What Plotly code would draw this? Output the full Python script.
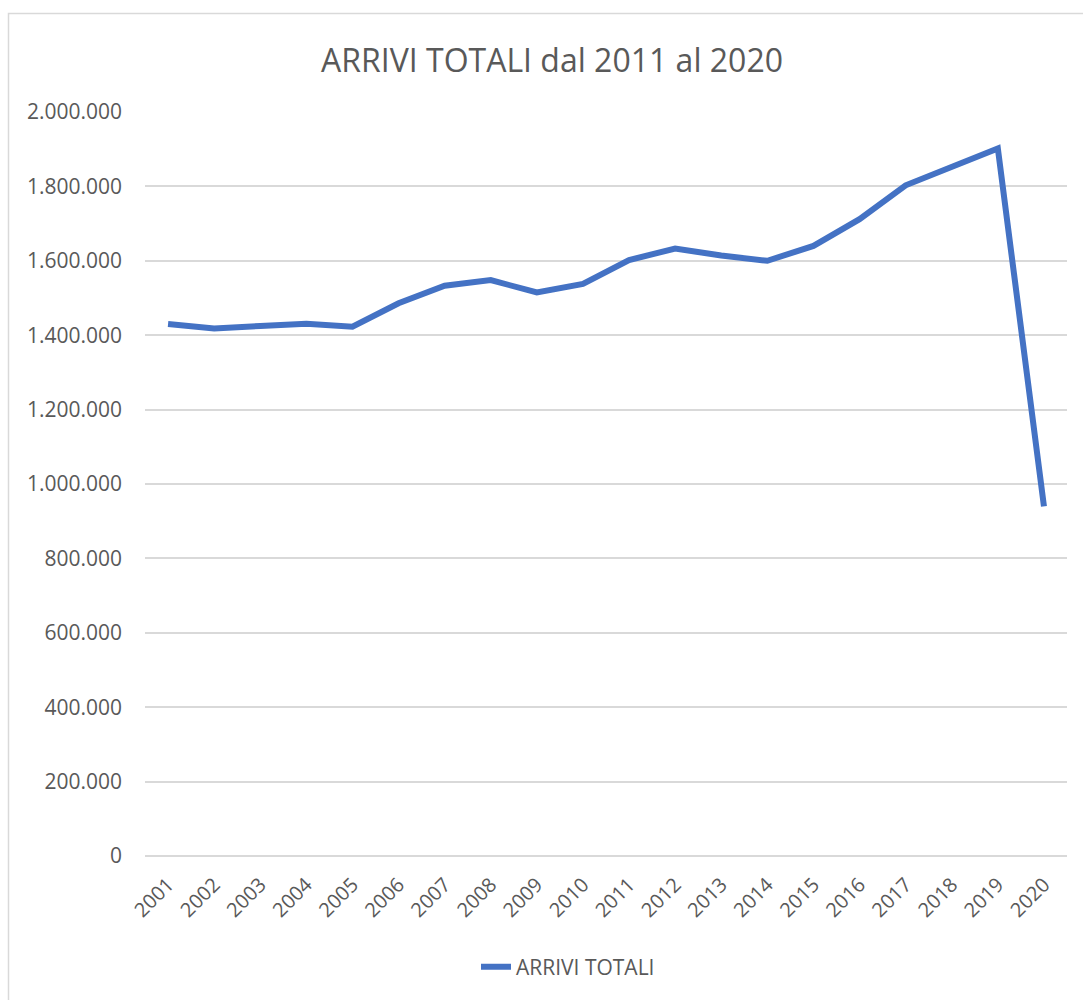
import plotly.graph_objects as go

# Arrivi turistici totali per anno
anni = ["2001", "2002", "2003", "2004", "2005", "2006", "2007", "2008", "2009", "2010",
        "2011", "2012", "2013", "2014", "2015", "2016", "2017", "2018", "2019", "2020"]
arrivi_totali = [1430000, 1418000, 1425000, 1431000, 1423000, 1486000, 1533000, 1548000,
                 1515000, 1538000, 1602000, 1633000, 1614000, 1600000, 1640000, 1712000,
                 1803000, 1852000, 1902000, 940000]
tick_y = [0, 200000, 400000, 600000, 800000, 1000000, 1200000, 1400000, 1600000,
          1800000, 2000000]

W, H = 1083, 1000
L, R, T, B = 145, 16, 112, 144
pw, ph = W - L - R, H - T - B

FONT = "Open Sans"
GRAY = "#595959"

fig = go.Figure()
fig.add_trace(go.Scatter(
    x=anni, y=arrivi_totali, mode="lines", name="ARRIVI TOTALI",
    line=dict(color="#4472C4", width=6),
))


def px_x(p):
    return (p - L) / pw


def px_y(p):
    return (H - B - p) / ph


fig.update_layout(
    width=W, height=H,
    margin=dict(l=L, r=R, t=T, b=B),
    paper_bgcolor="white", plot_bgcolor="white",
    separators=",.",
    font=dict(family=FONT, color=GRAY),
    title=dict(text="ARRIVI TOTALI dal 2011 al 2020", x=552 / W, xanchor="center",
               xref="container", y=1 - 61 / H, yanchor="middle", yref="container",
               font=dict(family=FONT, size=32, color=GRAY)),
    xaxis=dict(type="category", range=[-0.5, 19.5], tickangle=-45,
               showgrid=False, showline=False, ticks="", ticklabelstandoff=12,
               tickfont=dict(family=FONT, size=20, color=GRAY)),
    yaxis=dict(range=[0, 2000000], tickvals=tick_y, tickformat=",d",
               showgrid=True, gridcolor="#D9D9D9", gridwidth=1.5,
               zeroline=True, zerolinecolor="#D9D9D9", zerolinewidth=1.5,
               showline=False, ticks="", ticklabelstandoff=22,
               tickfont=dict(family=FONT, size=21, color=GRAY)),
    showlegend=True,
    legend=dict(orientation="h", x=0.5 - 38 / pw, xanchor="center", y=px_y(967),
                yanchor="middle", font=dict(family=FONT, size=21, color=GRAY)),
    shapes=[dict(type="rect", xref="paper", yref="paper",
                 x0=px_x(8.5), x1=px_x(1095), y0=px_y(1010), y1=px_y(13.5),
                 line=dict(color="#D9D9D9", width=1.5), fillcolor="rgba(0,0,0,0)",
                 layer="below")],
)

fig.write_html("out.html")
